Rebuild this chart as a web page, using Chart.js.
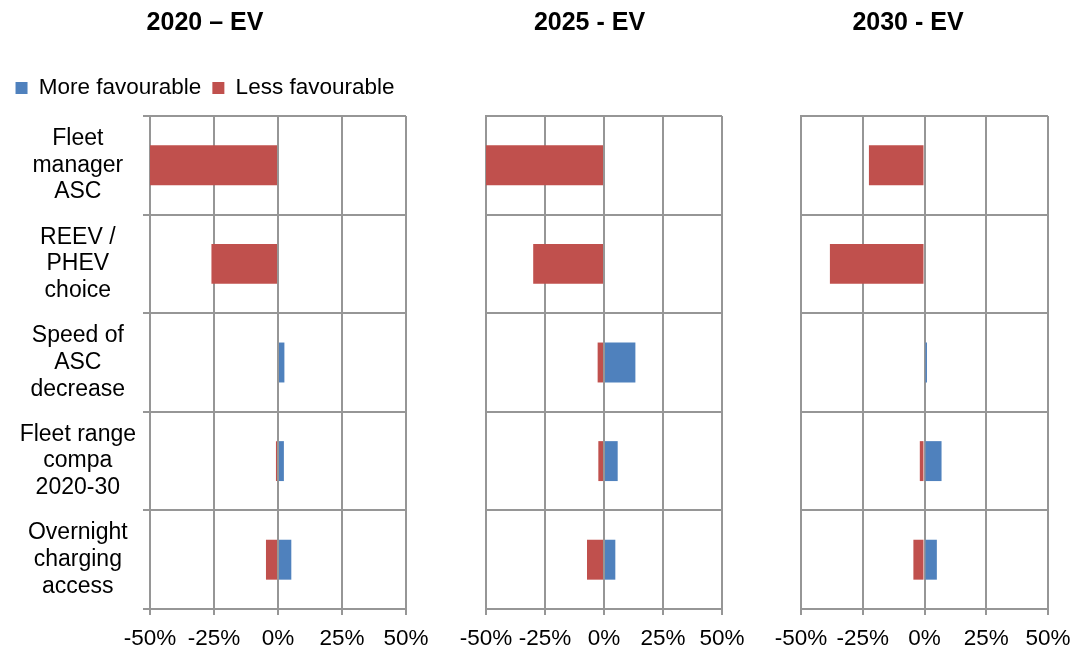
<!DOCTYPE html>
<html>
<head>
<meta charset="utf-8">
<title>EV choice sensitivity</title>
<script src="https://cdn.jsdelivr.net/npm/chart.js@4.4.1/dist/chart.umd.min.js"></script>
<style>
  body { margin: 0; background: #fff; }
  #wrap { position: relative; width: 1074px; height: 653px; overflow: hidden; }
  #wrap canvas { position: absolute; top: 0; }
</style>
</head>
<body>
<div id="wrap">
  <canvas id="ev2020" width="426" height="653" style="left:4px"></canvas>
  <canvas id="ev2025" width="289" height="653" style="left:457px"></canvas>
  <canvas id="ev2030" width="302" height="653" style="left:768px"></canvas>
</div>
<script>
// factors, top to bottom
const categories = [
  ['Fleet', 'manager', 'ASC'],
  ['REEV /', 'PHEV', 'choice'],
  ['Speed of', 'ASC', 'decrease'],
  ['Fleet range', 'compa', '2020-30'],
  ['Overnight', 'charging', 'access']
];
const xTicks = [-50, -25, 0, 25, 50];

// change in EV share (%), per year
const more2020 = [0, 0, 2.5, 2.3, 5.2];
const less2020 = [-50, -26, 0, -0.8, -4.7];
const more2025 = [0, 0, 13.3, 5.8, 4.8];
const less2025 = [-50, -30, -2.7, -2.4, -7.2];
const more2030 = [0, 0, 1.0, 6.9, 5.0];
const less2030 = [-22.5, -38.3, 0, -1.9, -4.5];

const BLUE = '#4f81bd';
const RED = '#c0504d';
const GRID = '#969696';
const FONT = "'Liberation Sans', Arial, sans-serif";

Chart.defaults.font.family = FONT;
Chart.defaults.color = '#000';

function makePanel(id, title, more, less, cfg) {
  const scales = {
    x: {
      stacked: true,
      min: xTicks[0],
      max: xTicks[xTicks.length - 1],
      ticks: {
        stepSize: xTicks[1] - xTicks[0],
        padding: 10,
        font: {size: 22.5},
        callback: (v) => v + '%'
      },
      grid: {color: GRID, lineWidth: 2, tickLength: 6},
      border: {color: GRID, width: 2},
      afterFit: (s) => {
        s.height = 44;
        s.paddingLeft = 0;
        s.paddingRight = 0;
      }
    },
    y: {
      stacked: true,
      ticks: {
        display: cfg.showLabels,
        crossAlign: 'center',
        padding: 7,
        font: {size: 23, lineHeight: 1.16}
      },
      grid: {color: GRID, lineWidth: 2, drawTicks: cfg.showLabels, tickLength: 7},
      border: {color: GRID, width: 2},
      afterFit: (s) => {
        s.width = cfg.axisWidth;
        s.paddingTop = 0;
        s.paddingBottom = 0;
      }
    }
  };

  if (cfg.legend) {
    // empty strip between the legend and the plot
    scales.gap = {
      type: 'linear',
      axis: 'x',
      position: 'top',
      grid: {display: false},
      border: {display: false},
      ticks: {display: false},
      afterFit: (s) => {
        s.height = 6.75;
        s.paddingLeft = 0;
        s.paddingRight = 0;
      }
    };
  }

  return new Chart(document.getElementById(id), {
    type: 'bar',
    data: {
      labels: categories,
      datasets: [
        {label: 'More favourable', data: more, backgroundColor: BLUE},
        {label: 'Less favourable', data: less, backgroundColor: RED}
      ]
    },
    options: {
      indexAxis: 'y',
      responsive: false,
      animation: false,
      barPercentage: 0.5,
      categoryPercentage: 0.81,
      layout: {padding: {right: cfg.right, top: 0, bottom: 0, left: 0}},
      scales: scales,
      plugins: {
        title: {
          display: true,
          text: title,
          font: {size: 25, weight: 'bold'},
          padding: {top: 8, bottom: cfg.legend ? 27.75 : 78}
        },
        legend: {
          display: cfg.legend,
          align: 'center',
          labels: {boxWidth: 12, boxHeight: 12, padding: 11, font: {size: 22.5}}
        },
        tooltip: {enabled: false}
      }
    }
  });
}

makePanel('ev2020', '2020 \u2013 EV', more2020, less2020,
  {showLabels: true, legend: true, axisWidth: 146, right: 24});
makePanel('ev2025', '2025 - EV', more2025, less2025,
  {showLabels: false, legend: false, axisWidth: 29, right: 24});
makePanel('ev2030', '2030 - EV', more2030, less2030,
  {showLabels: false, legend: false, axisWidth: 33, right: 22});
</script>
</body>
</html>
